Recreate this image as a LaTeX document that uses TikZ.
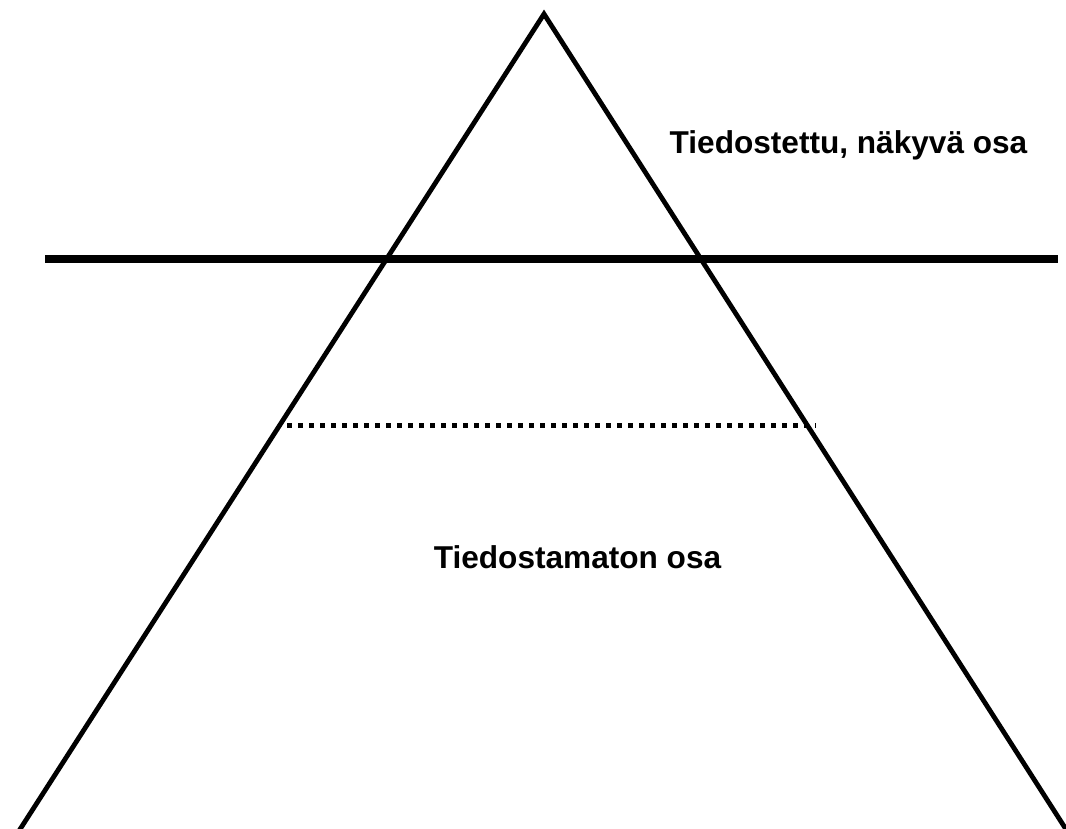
\documentclass[tikz,border=0pt]{standalone}
\usepackage{fontspec}
\setmainfont{Liberation Sans}
\tikzset{
  side/.style={line width=4.8pt, line join=miter},
  surface/.style={line width=7.5pt},
  limit/.style={line width=5pt, dash pattern=on 5pt off 6pt},
  label/.style={font=\fontsize{31.6}{38}\selectfont\bfseries, inner sep=0pt, anchor=center}
}
\begin{document}
\begin{tikzpicture}[x=1pt,y=-1pt]
\useasboundingbox (0,0) rectangle (1066,829);
\clip (0,0) rectangle (1066,829);
\coordinate (apex) at (544,14);
\coordinate (bl) at (17,834);
\coordinate (br) at (1069,834);
\coordinate (sl) at (45,259);
\coordinate (sr) at (1058,259);
\coordinate (dl) at (287,425);
\coordinate (dr) at (816,425);
\draw[side] (bl) -- (apex) -- (br);
\draw[surface] (sl) -- (sr);
\draw[limit] (dl) -- (dr);
\node[label] (vis) at (848.5,145) {Tiedostettu, näkyvä osa};
\node[label] (unc) at (577.5,557) {Tiedostamaton osa};
\end{tikzpicture}
\end{document}
